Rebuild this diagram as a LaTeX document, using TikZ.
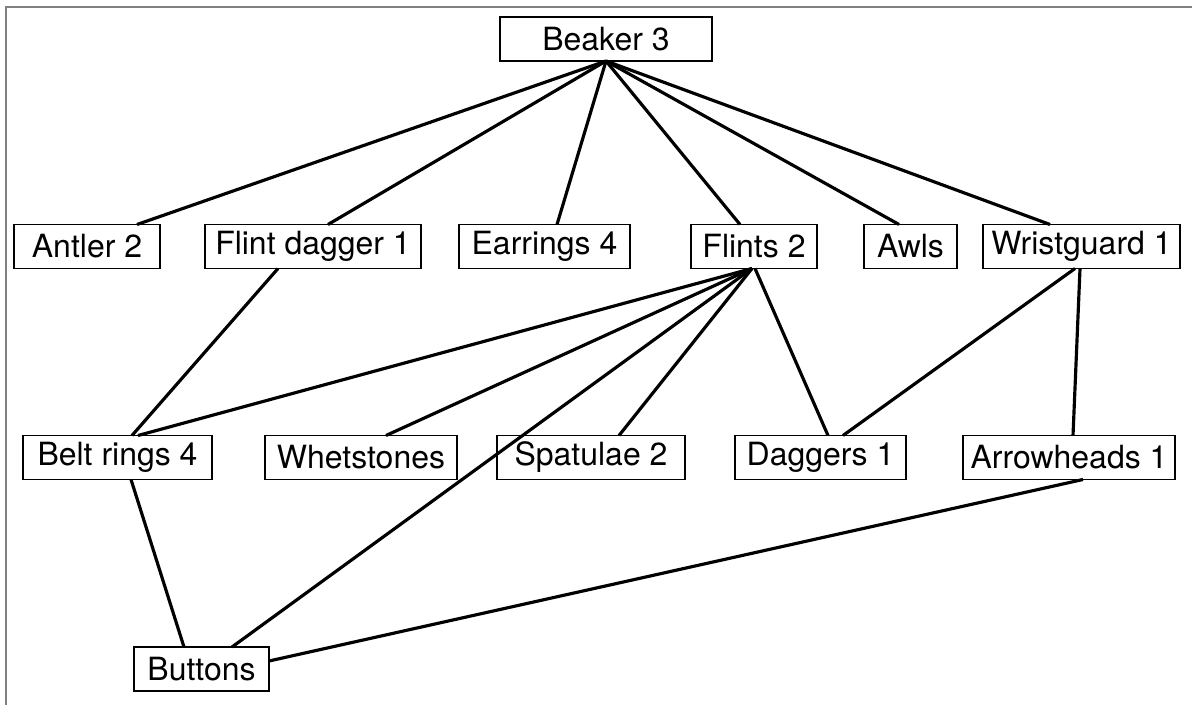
\documentclass[tikz,border=0pt]{standalone}
\usepackage{fontspec}
\setmainfont{TeX Gyre Heros}
\usetikzlibrary{calc}

\begin{document}
\begin{tikzpicture}[x=0.02cm, y=-0.02cm,
    item/.style={draw, line width=0.85pt, inner sep=0pt, outer sep=0pt,
        minimum height=0.88cm, font=\fontsize{18.2}{21}\selectfont},
    link/.style={line width=1.8pt}]
    \useasboundingbox (0,0) rectangle (1192,705);
    \draw[gray, line width=0.9pt] (6,705) -- (6,7) -- (1192,7);

    \node[item, minimum width=4.24cm] (beaker) at (606,39) {Beaker 3};

    \node[item, minimum width=2.92cm] (antler) at (87,246.5) {Antler 2};
    \node[item, minimum width=4.32cm] (fdagger) at (313,246.5) {Flint dagger 1};
    \node[item, minimum width=3.42cm] (earrings) at (544.5,246.5) {Earrings 4};
    \node[item, minimum width=2.52cm] (flints) at (754,246.5) {Flints 2};
    \node[item, minimum width=1.86cm] (awls) at (910.5,246.5) {Awls};
    \node[item, minimum width=3.94cm] (wrist) at (1081.5,246.5) {Wristguard 1};

    \node[item, minimum width=3.78cm] (belt) at (117.5,457.5) {Belt rings 4};
    \node[item, minimum width=3.84cm] (whet) at (361,457.5) {Whetstones};
    \node[item, minimum width=3.76cm] (spat) at (591,457.5) {Spatulae 2};
    \node[item, minimum width=3.42cm] (daggers) at (820.5,457.5) {Daggers 1};
    \node[item, minimum width=4.24cm] (arrow) at (1069,457.5) {Arrowheads 1};

    \node[item, minimum width=2.70cm] (buttons) at (201.5,669) {Buttons};

    \draw[link] (beaker.south) -- ($(antler.north)+(50,0)$);
    \draw[link] (beaker.south) -- ($(fdagger.north)+(15,0)$);
    \draw[link] (beaker.south) -- ($(earrings.north)+(12.5,0)$);
    \draw[link] (beaker.south) -- ($(flints.north)+(-14,0)$);
    \draw[link] (beaker.south) -- ($(awls.north)+(-11.5,0)$);
    \draw[link] (beaker.south) -- ($(wrist.north)+(-31.5,0)$);

    \draw[link] ($(fdagger.south)+(-35,0)$) -- ($(belt.north)+(14.5,0)$);
    \draw[link] ($(flints.south)+(-2,0)$) -- ($(belt.north)+(20.5,0)$);
    \draw[link] ($(flints.south)+(-2,0)$) -- ($(whet.north)+(25,0)$);
    \draw[link] ($(flints.south)+(-2,0)$) -- ($(spat.north)+(28,0)$);
    \draw[link] ($(flints.south)+(-2,0)$) -- ($(buttons.north)+(30.5,0)$);
    \draw[link] ($(flints.south)+(1,0)$) -- ($(daggers.north)+(7.5,0)$);
    \draw[link] ($(wrist.south)+(-6.5,0)$) -- ($(daggers.north)+(22.5,0)$);
    \draw[link] ($(wrist.south)+(-1.5,0)$) -- ($(arrow.north)+(4,0)$);

    \draw[link] ($(belt.south)+(13.5,0)$) -- ($(buttons.north)+(-17.5,0)$);
    \draw[link] ($(arrow.south)+(14,0)$) -- ($(buttons.east)+(0,-8)$);
\end{tikzpicture}
\end{document}
